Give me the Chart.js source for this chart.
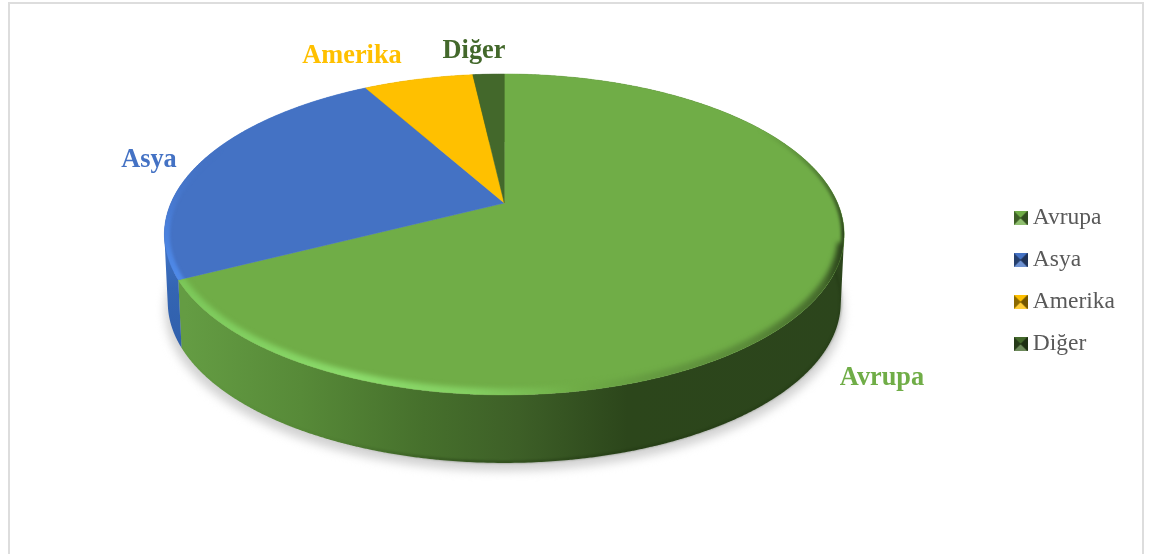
<!DOCTYPE html>
<html><head><meta charset="utf-8">
<style>html,body{margin:0;padding:0;background:#fff;overflow:hidden}canvas{display:block}</style>
<script src="https://cdn.jsdelivr.net/npm/chart.js@4"></script></head>
<body><canvas id="c" width="1154" height="554"></canvas>
<script>
const categories = ["Avrupa", "Asya", "Amerika", "Diğer"];
const shares = [67.5, 24.4, 6.3, 1.8];
const colors = ["#70AD47", "#4472C4", "#FFC000", "#43682B"];
const labelColors = ["#70AD47", "#4472C4", "#FFC000", "#43682B"];
const labelAnchors = [[882, 378], [149, 160], [352, 56], [474, 51]];

const view = {k: 0.196, xs: 2.16, shiftY: -78, wall: 68, wallX: 0.99};

function shade(hex, f) {
  const n = parseInt(hex.slice(1), 16);
  const c = [n >> 16, (n >> 8) & 255, n & 255].map(v => Math.round(f < 1 ? v * f : v + (255 - v) * (f - 1)));
  return `rgb(${c[0]},${c[1]},${c[2]})`;
}
function marker(hex) {
  const s = 14, m = s / 2, cv = document.createElement('canvas');
  cv.width = s; cv.height = s;
  const g = cv.getContext('2d');
  const tri = (pts, fill) => { g.beginPath(); g.moveTo(pts[0], pts[1]); g.lineTo(pts[2], pts[3]); g.lineTo(m, m); g.closePath(); g.fillStyle = fill; g.fill(); };
  g.fillStyle = shade(hex, 0.6); g.fillRect(0, 0, s, s);
  tri([0, 0, s, 0], hex);
  tri([0, s, s, s], shade(hex, 1.22));
  tri([0, 0, 0, s], shade(hex, 0.55));
  tri([s, 0, s, s], shade(hex, 0.45));
  return cv;
}
function project(a, x, y, R, drop, sx) {
  const u = Math.cos(a), v = Math.sin(a), w = 1 - view.k * v;
  return [x + R * view.xs * sx * u / w, y + view.shiftY + R * v / w + drop];
}
function rim(ctx, arc, a0, a1, drop, sx, first) {
  const n = Math.max(2, Math.ceil((a1 - a0) * 120));
  for (let i = 0; i <= n; i++) {
    const p = project(a0 + (a1 - a0) * i / n, arc.x, arc.y, arc.outerRadius, drop, sx);
    if (i === 0 && first) ctx.moveTo(p[0], p[1]); else ctx.lineTo(p[0], p[1]);
  }
}
function fullPath(ctx, arc, drop, sx) {
  ctx.beginPath();
  rim(ctx, arc, 0, Math.PI * 2, drop, sx, true);
  ctx.closePath();
}
function facePath(ctx, arc) {
  ctx.beginPath();
  ctx.moveTo(arc.x, arc.y + view.shiftY);
  rim(ctx, arc, arc.startAngle, arc.endAngle, 0, 1, false);
  ctx.closePath();
}
function stops(g, list) { list.forEach(s => g.addColorStop(s[0], s[1])); return g; }

const pie3d = {
  id: 'pie3d',
  beforeDraw(chart) {
    const c = chart.ctx;
    c.save();
    c.fillStyle = '#fff'; c.fillRect(0, 0, chart.width, chart.height);
    c.strokeStyle = '#DDDDDD'; c.lineWidth = 2;
    c.strokeRect(9, 3, 1134, 560);
    c.restore();
  },
  beforeDatasetDraw(chart) {
    const c = chart.ctx, arcs = chart.getDatasetMeta(0).data, a0 = arcs[0];
    // soft ground shadow
    c.save();
    c.filter = 'blur(5px)';
    fullPath(c, a0, view.wall + 8, view.wallX * 1.008);
    c.fillStyle = '#d2d2d2'; c.fill();
    c.restore();
    // walls: narrow quads of one winding in one path, so the silhouette stays straight between the rims
    arcs.forEach((arc, i) => {
      let g;
      if (i === 0) g = stops(c.createLinearGradient(165, 0, 845, 0), [[0.03, '#649c43'], [0.2, '#578a38'], [0.38, '#46702c'], [0.52, '#3d5f27'], [0.68, '#2c461b'], [1, '#2c451c']]);
      else if (i === 1) g = stops(c.createLinearGradient(0, 230, 0, 345), [[0, '#4478cc'], [0.5, '#3465b3'], [1, '#3060ac']]);
      else g = shade(colors[i], 0.6);
      const da = arc.endAngle - arc.startAngle, n = Math.max(2, Math.ceil(da * 120));
      c.beginPath();
      for (let j = 0; j < n; j++) {
        const a = arc.startAngle + da * j / n, b = arc.startAngle + da * (j + 1) / n + 0.001;
        const pts = [project(a, arc.x, arc.y, arc.outerRadius, 0, 1), project(b, arc.x, arc.y, arc.outerRadius, 0, 1),
                     project(b, arc.x, arc.y, arc.outerRadius, view.wall, view.wallX), project(a, arc.x, arc.y, arc.outerRadius, view.wall, view.wallX)];
        let area = 0;
        pts.forEach((p, q) => { const r = pts[(q + 1) % 4]; area += p[0] * r[1] - r[0] * p[1]; });
        if (area < 0) pts.reverse();
        pts.forEach((p, q) => q ? c.lineTo(p[0], p[1]) : c.moveTo(p[0], p[1]));
        c.closePath();
      }
      c.fillStyle = g; c.fill();
    });
    // dark lower edge of the wall
    c.save();
    c.beginPath();
    rim(c, a0, 0.0, Math.PI, view.wall - 1, view.wallX, true);
    c.strokeStyle = stops(c.createLinearGradient(165, 0, 846, 0), [[0, 'rgba(25,45,12,0)'], [0.25, 'rgba(25,45,12,0.05)'], [0.45, 'rgba(25,45,12,0.5)'], [1, 'rgba(25,45,12,0.3)']]);
    c.lineWidth = 2; c.filter = 'blur(1px)'; c.stroke();
    c.restore();
    // top faces
    arcs.forEach((arc, i) => {
      facePath(c, arc);
      c.fillStyle = colors[i]; c.fill();
      c.strokeStyle = colors[i]; c.lineWidth = 0.5; c.stroke();
    });
    // bevel on the green face: the front rim catches the light
    c.save();
    facePath(c, a0); c.clip();
    c.filter = 'blur(2.5px)';
    c.beginPath();
    rim(c, a0, 0.25, a0.endAngle, 0, 1, true);
    c.lineWidth = 13;
    c.strokeStyle = stops(c.createLinearGradient(165, 0, 846, 0), [
      [0.03, '#7cc85a'], [0.28, '#8cdc6c'], [0.45, '#84cf62'], [0.6, '#70AD47'],
      [0.72, '#649a40'], [0.86, '#5a8a39'], [0.97, '#44692b'], [1, '#2c451c']]);
    c.stroke();
    // dark thin edge around the right extreme
    c.filter = 'blur(1.5px)';
    c.beginPath();
    rim(c, a0, -0.6, 0.5, 0, 1, true);
    c.lineWidth = 6;
    c.strokeStyle = stops(c.createLinearGradient(0, 130, 0, 290), [[0, 'rgba(44,69,28,0)'], [0.65, 'rgba(44,69,28,1)'], [1, 'rgba(44,69,28,0)']]);
    c.stroke();
    c.restore();
    // bevel on the blue face
    c.save();
    facePath(c, arcs[1]); c.clip();
    c.filter = 'blur(1.5px)';
    fullPath(c, a0, 0, 1);
    c.lineWidth = 11;
    c.strokeStyle = stops(c.createLinearGradient(0, 150, 0, 280), [[0, 'rgba(68,114,196,0)'], [0.6, 'rgba(74,128,220,1)'], [1, '#4f8ae8']]);
    c.stroke();
    c.restore();
    // slice labels
    c.save();
    c.font = 'bold 26.3px "Liberation Serif"';
    c.textAlign = 'center'; c.textBaseline = 'middle';
    categories.forEach((t, i) => {
      c.fillStyle = labelColors[i];
      c.fillText(t, labelAnchors[i][0], labelAnchors[i][1]);
    });
    c.restore();
    return false;
  }
};

new Chart(document.getElementById('c'), {
  type: 'pie',
  data: {labels: categories, datasets: [{data: shares, backgroundColor: colors, borderWidth: 0, radius: 154.3}]},
  plugins: [pie3d],
  options: {
    responsive: false, animation: false, devicePixelRatio: 1,
    layout: {padding: {left: 7, right: 29, top: 8, bottom: 0}},
    plugins: {
      tooltip: {enabled: false},
      legend: {
        position: 'right', align: 'center',
        labels: {
          usePointStyle: true, pointStyleWidth: 1, boxHeight: 14,
          color: '#595959', padding: 18.5,
          font: {family: '"Liberation Serif"', size: 23.5},
          generateLabels: chart => chart.data.labels.map((t, i) => ({
            text: t, fillStyle: colors[i], strokeStyle: colors[i], lineWidth: 0,
            pointStyle: marker(colors[i]), hidden: false, index: i, fontColor: '#595959'
          }))
        }
      }
    }
  }
});
</script>
</body></html>
